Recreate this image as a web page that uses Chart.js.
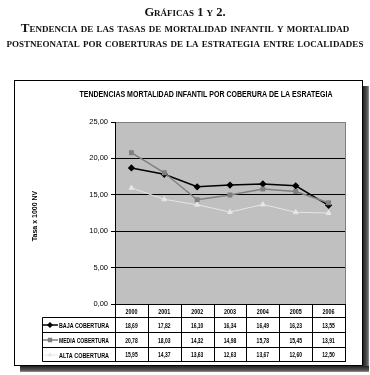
<!DOCTYPE html>
<html><head><meta charset="utf-8">
<script src="https://cdn.jsdelivr.net/npm/chart.js@4.4.1/dist/chart.umd.min.js"></script>
<style>
html,body{margin:0;padding:0;background:#fff;width:370px;height:375px;overflow:hidden}
#wrap{position:relative;width:370px;height:375px}
canvas{position:absolute;left:0;top:0}
.h{position:absolute;left:0;width:370px;text-align:center;font-family:"Liberation Serif","DejaVu Serif",serif;font-weight:bold;font-variant:small-caps;color:#111;white-space:nowrap;z-index:2;line-height:14px}
</style></head><body>
<div id="wrap">
<canvas id="c" width="370" height="375"></canvas>
<div class="h" style="top:5px;font-size:12.5px">Gráficas 1 y 2.</div>
<div class="h" style="top:21px;font-size:13px">Tendencia de las tasas de mortalidad infantil y mortalidad</div>
<div class="h" style="top:36px;font-size:12.6px">postneonatal por coberturas de la estrategia entre localidades</div>
</div>
<script>
const years = ['2000','2001','2002','2003','2004','2005','2006'];
const baja  = [18.69,17.82,16.10,16.34,16.49,16.23,13.55];
const media = [20.78,18.03,14.32,14.98,15.78,15.45,13.91];
const alta  = [15.95,14.37,13.63,12.63,13.67,12.60,12.50];
const seriesNames = ['BAJA COBERTURA','MEDIA COBERTURA','ALTA COBERTURA'];
const yMin = 0, yMax = 25, yStep = 5;
const chartTitle = 'TENDENCIAS MORTALIDAD INFANTIL POR COBERURA DE LA ESRATEGIA';
const yTitle = 'Tasa x 1000 NV';

const NARROW = '"Liberation Sans Narrow","Arial Narrow","Liberation Sans",Arial,sans-serif';
const fmt = v => v.toFixed(2).replace('.', ',');

const styles = [
  {color:'#000000', point:'rectRot', r:2.6, w:1.5},
  {color:'#808080', point:'rect', r:2.4, w:1.5},
  {color:'#e6e6e6', point:'triangle', r:2.8, w:1}
];
const allSeries = [baja, media, alta];

const boxPlugin = {
  id:'boxPlugin',
  beforeDraw(chart){
    const ctx = chart.ctx, a = chart.chartArea;
    ctx.save();
    let g = ctx.createLinearGradient(363,0,370,0);
    g.addColorStop(0,'#222'); g.addColorStop(0.6,'#555'); g.addColorStop(1,'#bbb');
    ctx.fillStyle = g; ctx.fillRect(363,86,6,286);
    g = ctx.createLinearGradient(0,366,0,373);
    g.addColorStop(0,'#222'); g.addColorStop(0.6,'#555'); g.addColorStop(1,'#bbb');
    ctx.fillStyle = g; ctx.fillRect(20,366,349,6);
    ctx.fillStyle = '#fff'; ctx.fillRect(14,80,349,286);
    ctx.strokeStyle = '#000'; ctx.lineWidth = 1; ctx.strokeRect(14.5,80.5,348,285);
    ctx.fillStyle = '#c0c0c0';
    ctx.fillRect(a.left, a.top, a.right - a.left, a.bottom - a.top);
    ctx.fillStyle = '#000';
    ctx.font = 'bold 8.5px ' + NARROW;
    ctx.textAlign = 'center'; ctx.textBaseline = 'middle';
    ctx.fillText(chartTitle, 206, 95, 253);
    ctx.translate(35, 216); ctx.rotate(-Math.PI/2);
    ctx.font = 'bold 7px "Liberation Sans",Arial,sans-serif';
    ctx.fillText(yTitle, 0, 0, 68);
    ctx.restore();
  },
  afterDraw(chart){
    const ctx = chart.ctx, a = chart.chartArea, xs = chart.scales.x;
    const n = years.length, cw = (a.right - a.left) / n;
    const tL = 42.5, rows = [304.5, 317.5, 332.5, 347.5, 361.5];
    ctx.save();
    ctx.strokeStyle = '#808080'; ctx.lineWidth = 1;
    ctx.beginPath(); ctx.moveTo(a.right + 0.5, a.top); ctx.lineTo(a.right + 0.5, a.bottom); ctx.stroke();
    ctx.strokeStyle = '#000';
    ctx.beginPath();
    ctx.moveTo(a.left, rows[0]); ctx.lineTo(a.right + 1, rows[0]);
    for (let i = 1; i < rows.length; i++) { ctx.moveTo(tL, rows[i]); ctx.lineTo(a.right + 1, rows[i]); }
    ctx.moveTo(tL, rows[1]); ctx.lineTo(tL, rows[4]);
    for (let i = 0; i <= n; i++) {
      const x = Math.round(a.left + i * cw) + 0.5;
      ctx.moveTo(x, rows[0]); ctx.lineTo(x, rows[4]);
    }
    ctx.stroke();
    ctx.fillStyle = '#000';
    ctx.textAlign = 'center'; ctx.textBaseline = 'middle';
    ctx.font = 'bold 8px ' + NARROW;
    years.forEach((y, i) => ctx.fillText(y, xs.getPixelForValue(i), (rows[0] + rows[1]) / 2 + 0.5, 12));
    allSeries.forEach((s, k) => {
      const cy = (rows[k + 1] + rows[k + 2]) / 2 + 0.5;
      s.forEach((v, i) => ctx.fillText(fmt(v), xs.getPixelForValue(i), cy, 12.5));
    });
    allSeries.forEach((s, k) => {
      const cy = Math.round((rows[k + 1] + rows[k + 2]) / 2);
      const st = styles[k];
      ctx.strokeStyle = st.color; ctx.fillStyle = st.color; ctx.lineWidth = st.w;
      ctx.beginPath(); ctx.moveTo(43, cy); ctx.lineTo(58, cy); ctx.stroke();
      Chart.helpers.drawPoint(ctx, {pointStyle: st.point, radius: 2, borderWidth: 1}, 50, cy);
      ctx.textAlign = 'left';
      ctx.fillStyle = '#000';
      ctx.font = 'bold 8px ' + NARROW;
      ctx.fillText(seriesNames[k], 59, cy + 0.5, 50);
    });
    ctx.restore();
  }
};

new Chart(document.getElementById('c'), {
  type: 'line',
  data: {
    labels: years,
    datasets: allSeries.map((s, k) => ({
      label: seriesNames[k],
      data: s,
      borderColor: styles[k].color,
      backgroundColor: styles[k].color,
      pointBackgroundColor: styles[k].color,
      pointBorderColor: styles[k].color,
      pointStyle: styles[k].point,
      pointRadius: styles[k].r,
      borderWidth: styles[k].w,
      tension: 0
    })).reverse()
  },
  options: {
    responsive: false,
    animation: false,
    devicePixelRatio: 1,
    layout: {padding: {left: 42, right: 25, top: 122, bottom: 71}},
    plugins: {legend: {display: false}, tooltip: {enabled: false}, title: {display: false}},
    scales: {
      x: {type: 'category', offset: true, display: false},
      y: {
        min: yMin, max: yMax,
        ticks: {stepSize: yStep, callback: v => fmt(v), color: '#000', font: {family: NARROW, size: 7.5}, padding: 3},
        grid: {color: c => (c.tick && c.tick.value === yMax) ? '#808080' : '#000', tickColor: '#000', tickLength: 4, lineWidth: 1},
        border: {color: '#000', width: 1},
        afterFit: s => { s.width = 73; }
      }
    }
  },
  plugins: [boxPlugin]
});
</script>
</body></html>
